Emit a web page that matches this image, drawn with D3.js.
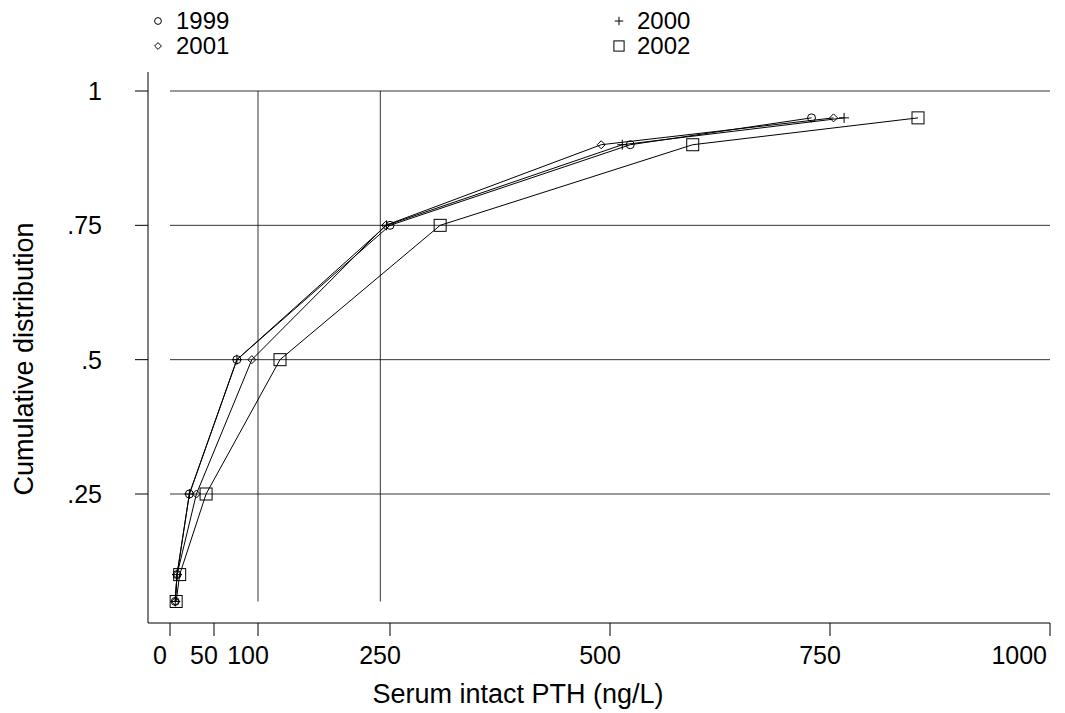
<!DOCTYPE html>
<html><head><meta charset="utf-8">
<script src="https://cdn.jsdelivr.net/npm/d3@7"></script>
<style>body{margin:0;background:#fff}text{font-family:"Liberation Sans",Arial,sans-serif;fill:#000}</style>
</head><body><svg id="c" width="1065" height="713"></svg>
<script>
const probs = [0.05, 0.1, 0.25, 0.5, 0.75, 0.9, 0.95];
const v1999 = [6, 8, 22, 76, 250, 523, 729];
const v2000 = [6, 8, 22, 76, 246, 514, 766];
const v2001 = [6, 8, 30, 93, 245, 490, 754];
const v2002 = [7, 11, 41, 125, 307, 594, 850];
const xTicks = [0, 50, 100, 250, 500, 750, 1000];
const yTicks = [0.25, 0.5, 0.75, 1];
const yTickLabels = [".25", ".5", ".75", "1"];
const refLinesX = [100, 239];

const svg = d3.select("#c");
const x = d3.scaleLinear().domain([0, 1000]).range([170, 1050]);
const y = d3.scaleLinear().domain([0.25, 1]).range([494, 91]);

// y axis
svg.append("line").attr("x1", 148).attr("x2", 148).attr("y1", 72).attr("y2", 623).attr("stroke", "#000");
yTicks.forEach((t, i) => {
  svg.append("line").attr("x1", 135).attr("x2", 148).attr("y1", y(t)).attr("y2", y(t)).attr("stroke", "#000");
  svg.append("text").attr("x", 102).attr("y", y(t) + 9).attr("text-anchor", "end").attr("font-size", 25).text(yTickLabels[i]);
  svg.append("line").attr("x1", 170).attr("x2", 1050).attr("y1", y(t)).attr("y2", y(t)).attr("stroke", "#000").attr("stroke-width", 0.8);
});
// x axis
svg.append("line").attr("x1", 148).attr("x2", 1050).attr("y1", 623).attr("y2", 623).attr("stroke", "#000");
xTicks.forEach(t => {
  svg.append("line").attr("x1", x(t)).attr("x2", x(t)).attr("y1", 623).attr("y2", 636).attr("stroke", "#000");
  const last = t === 1000;
  svg.append("text").attr("x", last ? x(t) - 3 : x(t) - 10).attr("y", 664)
    .attr("text-anchor", last ? "end" : "middle").attr("font-size", 25).text(t);
});
refLinesX.forEach(v => {
  svg.append("line").attr("x1", x(v)).attr("x2", x(v)).attr("y1", 91).attr("y2", y(0.05)).attr("stroke", "#000").attr("stroke-width", 0.8);
});

svg.append("text").attr("x", 518).attr("y", 703).attr("text-anchor", "middle").attr("font-size", 27).text("Serum intact PTH (ng/L)");
svg.append("text").attr("transform", "translate(33,359) rotate(-90)").attr("text-anchor", "middle").attr("font-size", 27).text("Cumulative distribution");

function marker(g, type, cx, cy, s) {
  if (type === "circle") g.append("circle").attr("cx", cx).attr("cy", cy).attr("r", 4 * s).attr("fill", "none").attr("stroke", "#000");
  else if (type === "plus") g.append("path").attr("d", `M${cx - 5 * s},${cy}h${10 * s}M${cx},${cy - 5 * s}v${10 * s}`).attr("stroke", "#000");
  else if (type === "diamond") g.append("path").attr("d", `M${cx},${cy - 4 * s}l${4 * s},${4 * s}l${-4 * s},${4 * s}l${-4 * s},${-4 * s}z`).attr("fill", "none").attr("stroke", "#000");
  else g.append("rect").attr("x", cx - 6 * s).attr("y", cy - 6 * s).attr("width", 12 * s).attr("height", 12 * s).attr("fill", "none").attr("stroke", "#000");
}

const series = [
  { name: "1999", vals: v1999, m: "circle" },
  { name: "2000", vals: v2000, m: "plus" },
  { name: "2001", vals: v2001, m: "diamond" },
  { name: "2002", vals: v2002, m: "square" }
];
const line = d3.line().x(d => x(d[0])).y(d => y(d[1]));
series.forEach(s => {
  const pts = s.vals.map((v, i) => [v, probs[i]]);
  svg.append("path").attr("d", line(pts)).attr("fill", "none").attr("stroke", "#000").attr("stroke-width", 1);
  const g = svg.append("g");
  pts.forEach(p => marker(g, s.m, x(p[0]), y(p[1]), 1));
});

// legend
const leg = [
  { s: series[0], lx: 158, ly: 21 }, { s: series[1], lx: 619, ly: 21 },
  { s: series[2], lx: 158, ly: 46 }, { s: series[3], lx: 619, ly: 46 }
];
leg.forEach(l => {
  marker(svg, l.s.m, l.lx, l.ly, 0.85);
  svg.append("text").attr("x", l.lx + 18).attr("y", l.ly + 8).attr("font-size", 24).text(l.s.name);
});
</script></body></html>
